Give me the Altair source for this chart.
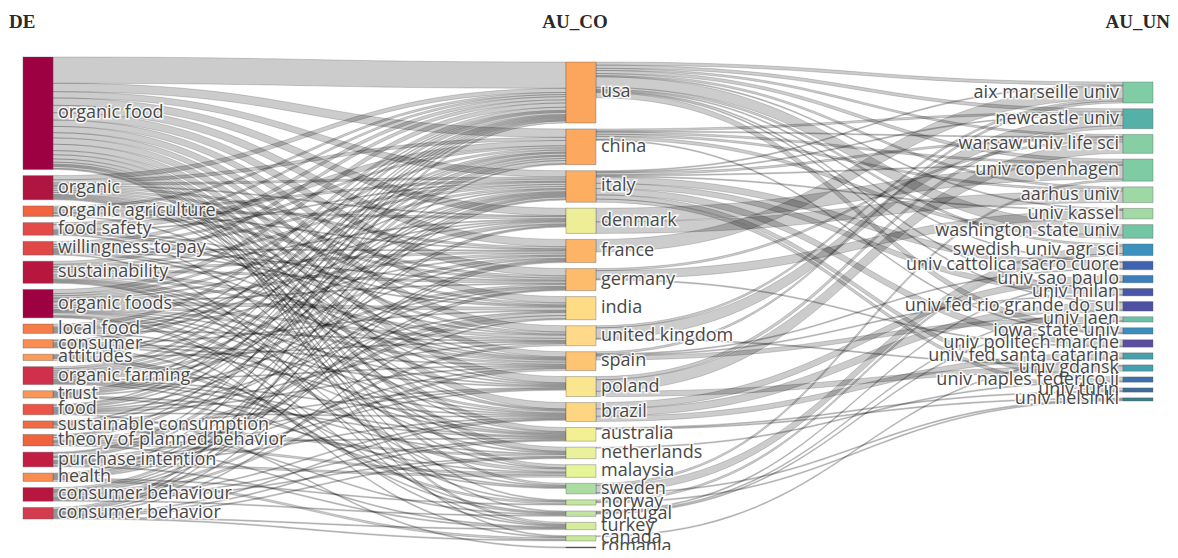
import altair as alt
import pandas as pd
import numpy as np

# ---------------- data ----------------
DE = ["organic food", "organic", "organic agriculture", "food safety", "willingness to pay",
      "sustainability", "organic foods", "local food", "consumer", "attitudes",
      "organic farming", "trust", "food", "sustainable consumption",
      "theory of planned behavior", "purchase intention", "health",
      "consumer behaviour", "consumer behavior"]
DE_COLORS = ["#9e0142", "#ae1540", "#f0643f", "#e34a4a", "#e04848",
             "#b7163f", "#9e0142", "#f57d4a", "#f98e52", "#fa9b58",
             "#d0304c", "#fa9656", "#ea5346", "#f26a43",
             "#f0633f", "#c21e44", "#f88c51",
             "#b7163f", "#d33c4e"]

AU_CO = ["usa", "china", "italy", "denmark", "france", "germany", "india",
         "united kingdom", "spain", "poland", "brazil", "australia", "netherlands",
         "malaysia", "sweden", "norway", "portugal", "turkey", "canada", "romania"]
AU_CO_COLORS = ["#fca55d", "#fca95f", "#fdae61", "#eeee98", "#fdb466", "#fdbb6c", "#fedc85",
                "#fed98a", "#fdc473", "#f9e68e", "#fed580", "#f3ef93", "#e9f29a",
                "#e6f598", "#acdca2", "#c2e59f", "#bfe5a0", "#d4ec9c", "#c9e89e", "#555555"]

AU_UN = ["aix marseille univ", "newcastle univ", "warsaw univ life sci", "univ copenhagen",
         "aarhus univ", "univ kassel", "washington state univ", "swedish univ agr sci",
         "univ cattolica sacro cuore", "univ sao paulo", "univ milan",
         "univ fed rio grande do sul", "univ jaen", "iowa state univ", "univ politech marche",
         "univ fed santa catarina", "univ gdansk", "univ naples federico ii", "univ turin",
         "univ helsinki"]
AU_UN_COLORS = ["#80cca5", "#55b0a8", "#86cfa5", "#7ecba4", "#9ed8a4", "#a2d9a4", "#73c6a4",
                "#3e90bd", "#3f63b0", "#3a7fb9", "#4857a8", "#4f4fa3", "#6ac3a5", "#3c8ebe",
                "#5b4ea1", "#48a0ab", "#46a0b0", "#3d70ae", "#3e6d9c", "#3d7d8a"]

DE_TO_CO = {
    "organic food": {"usa": 25, "china": 8, "italy": 6, "denmark": 7, "france": 7, "germany": 7,
                     "india": 6, "united kingdom": 6, "spain": 5, "poland": 6, "brazil": 6,
                     "australia": 4, "netherlands": 4, "malaysia": 3, "sweden": 2, "norway": 1,
                     "portugal": 1, "turkey": 2, "canada": 1},
    "organic": {"usa": 4, "china": 3, "italy": 2, "denmark": 1, "france": 2, "germany": 2, "india": 2,
                "united kingdom": 2, "spain": 1, "poland": 1, "brazil": 1, "australia": 1, "netherlands": 1},
    "organic agriculture": {"usa": 2, "italy": 2, "denmark": 2, "germany": 2, "france": 1, "brazil": 1},
    "food safety": {"china": 5, "usa": 2, "india": 1, "italy": 1, "malaysia": 1, "spain": 1, "united kingdom": 1},
    "willingness to pay": {"usa": 3, "china": 2, "italy": 2, "france": 1, "poland": 1, "spain": 1,
                           "india": 1, "turkey": 1, "germany": 1},
    "sustainability": {"usa": 3, "italy": 2, "denmark": 1, "france": 2, "germany": 2, "united kingdom": 3,
                       "spain": 2, "brazil": 2, "sweden": 1, "norway": 1, "netherlands": 1, "australia": 1},
    "organic foods": {"usa": 4, "china": 2, "india": 3, "italy": 2, "poland": 1, "france": 2,
                      "united kingdom": 2, "spain": 2, "brazil": 1, "malaysia": 3, "turkey": 1,
                      "portugal": 1, "germany": 1, "denmark": 1, "australia": 1},
    "local food": {"usa": 3, "united kingdom": 1, "canada": 1, "italy": 1, "france": 1, "australia": 1, "denmark": 1},
    "consumer": {"china": 2, "usa": 1, "india": 1, "poland": 1, "brazil": 1, "spain": 1, "portugal": 1},
    "attitudes": {"usa": 1, "china": 1, "sweden": 1, "norway": 2, "united kingdom": 1},
    "organic farming": {"usa": 2, "china": 2, "italy": 2, "denmark": 2, "france": 2, "germany": 2,
                        "brazil": 1, "spain": 1, "sweden": 1, "netherlands": 1, "australia": 1},
    "trust": {"usa": 1, "china": 1, "italy": 1, "germany": 1, "denmark": 1, "malaysia": 1, "australia": 1},
    "food": {"usa": 1, "china": 2, "italy": 1, "france": 1, "brazil": 1, "spain": 1, "india": 1,
             "united kingdom": 1, "romania": 1},
    "sustainable consumption": {"usa": 1, "italy": 1, "germany": 1, "poland": 1,
                                "portugal": 1, "netherlands": 2},
    "theory of planned behavior": {"china": 2, "india": 3, "malaysia": 2, "usa": 1, "poland": 1,
                                   "turkey": 1, "australia": 1},
    "purchase intention": {"china": 3, "india": 3, "malaysia": 2, "usa": 1, "italy": 1, "poland": 1,
                           "turkey": 1, "brazil": 1, "spain": 1},
    "health": {"usa": 1, "italy": 1, "france": 1, "germany": 1, "denmark": 1,
               "canada": 2, "norway": 1},
    "consumer behaviour": {"united kingdom": 2, "italy": 2, "spain": 2, "france": 1, "germany": 1,
                           "denmark": 1, "australia": 1, "netherlands": 1, "portugal": 1, "brazil": 1},
    "consumer behavior": {"usa": 2, "china": 1, "italy": 1, "india": 1, "france": 1, "canada": 1,
                          "brazil": 1, "australia": 1, "netherlands": 1, "turkey": 1},
}

UN_FROM_CO = {
    "aix marseille univ": {"france": 12, "usa": 3, "italy": 1, "spain": 2, "united kingdom": 2},
    "newcastle univ": {"united kingdom": 10, "usa": 3, "poland": 3, "italy": 1, "china": 2},
    "warsaw univ life sci": {"poland": 11, "usa": 2, "germany": 2, "italy": 2, "china": 1},
    "univ copenhagen": {"denmark": 13, "usa": 3, "china": 2, "sweden": 2, "italy": 1},
    "aarhus univ": {"denmark": 11, "usa": 2, "china": 2},
    "univ kassel": {"germany": 8, "usa": 1, "italy": 1},
    "washington state univ": {"usa": 10, "china": 3},
    "swedish univ agr sci": {"sweden": 7, "usa": 2, "norway": 2},
    "univ cattolica sacro cuore": {"italy": 6, "spain": 1, "usa": 1},
    "univ sao paulo": {"brazil": 6, "portugal": 1},
    "univ milan": {"italy": 5, "usa": 1, "spain": 1},
    "univ fed rio grande do sul": {"brazil": 7, "portugal": 1, "usa": 1},
    "univ jaen": {"spain": 4, "portugal": 1},
    "iowa state univ": {"usa": 5, "china": 1},
    "univ politech marche": {"italy": 6, "germany": 1},
    "univ fed santa catarina": {"brazil": 5, "canada": 1},
    "univ gdansk": {"poland": 5, "united kingdom": 1},
    "univ naples federico ii": {"italy": 4, "netherlands": 1},
    "univ turin": {"italy": 3, "australia": 1},
    "univ helsinki": {"sweden": 1, "norway": 1, "australia": 1},
}

TITLES = ["DE", "AU_CO", "AU_UN"]

# ---------------- layout (page pixel space) ----------------
COL_X = [23, 566, 1123]
NODE_W = 30
SPANS = [(57, 519), (62, 548), (82, 401)]

cols = [DE, AU_CO, AU_UN]
colors = [DE_COLORS, AU_CO_COLORS, AU_UN_COLORS]

links = []
for s, d in DE_TO_CO.items():
    for t, v in d.items():
        links.append((0, s, 1, t, v))
for t, d in UN_FROM_CO.items():
    for s, v in d.items():
        links.append((1, s, 2, t, v))

inn = {}
out = {}
for sc, s, tc, t, v in links:
    out[(sc, s)] = out.get((sc, s), 0) + v
    inn[(tc, t)] = inn.get((tc, t), 0) + v
size = {}
for c, names in enumerate(cols):
    for n in names:
        size[(c, n)] = max(inn.get((c, n), 0), out.get((c, n), 0))

mid_sum = sum(size[(1, n)] for n in AU_CO)
k = (SPANS[1][1] - SPANS[1][0] - 6.0 * (len(AU_CO) - 1)) / mid_sum

ypos = {}
node_rows = []
for c, names in enumerate(cols):
    tot = sum(size[(c, n)] for n in names) * k
    pad = (SPANS[c][1] - SPANS[c][0] - tot) / (len(names) - 1)
    y = SPANS[c][0]
    for i, n in enumerate(names):
        h = max(size[(c, n)] * k, 1.0)
        ypos[(c, n)] = (y, y + h)
        node_rows.append(dict(col=c, name=n, x0=COL_X[c], x1=COL_X[c] + NODE_W,
                              y0=y, y1=y + h, yc=y + h / 2, color=colors[c][i]))
        y += h + pad
nodes = pd.DataFrame(node_rows)

# stacking offsets (links ordered by the position of their other end)
src_off = {}
tgt_off = {}
order_src = sorted(range(len(links)), key=lambda i: (links[i][0], links[i][1], ypos[(links[i][2], links[i][3])][0]))
sy = {}
for i in order_src:
    sc, s, tc, t, v = links[i]
    base = sy.get((sc, s), ypos[(sc, s)][0])
    src_off[i] = base
    sy[(sc, s)] = base + v * k
ty = {}
order_tgt = sorted(range(len(links)), key=lambda i: (links[i][2], links[i][3], ypos[(links[i][0], links[i][1])][0]))
for i in order_tgt:
    sc, s, tc, t, v = links[i]
    base = ty.get((tc, t), ypos[(tc, t)][0])
    tgt_off[i] = base
    ty[(tc, t)] = base + v * k

tt = np.linspace(0, 1, 40)
rows = []
for i, (sc, s, tc, t, v) in enumerate(links):
    xa = COL_X[sc] + NODE_W
    xb = COL_X[tc]
    xm = (xa + xb) / 2
    xs = xa * (1 - tt) ** 3 + 3 * xm * (1 - tt) ** 2 * tt + 3 * xm * (1 - tt) * tt ** 2 + xb * tt ** 3
    sm = 3 * tt ** 2 - 2 * tt ** 3
    ya, yb = src_off[i], tgt_off[i]
    h = v * k
    for x, f in zip(xs, sm):
        top = ya + (yb - ya) * f
        rows.append(dict(id=i, x=x, y0=top, y1=top + h))
band = pd.DataFrame(rows)

xsc = alt.Scale(domain=[8, 1170], nice=False, zero=False)
ysc = alt.Scale(domain=[8, 550], reverse=True, nice=False, zero=False)

bands = alt.Chart(band).mark_area(
    fill="black", fillOpacity=0.2, stroke="black", strokeOpacity=0.33, strokeWidth=0.5
).encode(
    x=alt.X("x:Q", scale=xsc, axis=None),
    y=alt.Y("y0:Q", scale=ysc, axis=None),
    y2="y1:Q",
    detail="id:N",
)

rects = alt.Chart(nodes).mark_rect(stroke="#555", strokeWidth=0.6, strokeOpacity=0.6).encode(
    x=alt.X("x0:Q", scale=xsc, axis=None), x2="x1:Q",
    y=alt.Y("y0:Q", scale=ysc, axis=None), y2="y1:Q",
    color=alt.Color("color:N", scale=None),
)

lab = nodes.copy()
lab["lx"] = np.where(lab["col"] == 2, lab["x0"] - 4, lab["x1"] + 5)
left_lab = lab[lab["col"] < 2]
right_lab = lab[lab["col"] == 2]

def labels(df, align):
    base = alt.Chart(df).encode(
        x=alt.X("lx:Q", scale=xsc, axis=None),
        y=alt.Y("yc:Q", scale=ysc, axis=None),
        text="name:N",
    )
    halo = base.mark_text(align=align, baseline="middle", font="Open Sans", fontSize=18,
                          fill="white", stroke="white", strokeWidth=3, strokeOpacity=0.85)
    txt = base.mark_text(align=align, baseline="middle", font="Open Sans", fontSize=18, color="#484848")
    return halo + txt

tdf = pd.DataFrame(dict(t=TITLES, x=[9, 575, 1170], y=[22, 22, 22]))
title_layers = []
for al, row in zip(["left", "center", "right"], tdf.itertuples()):
    title_layers.append(
        alt.Chart(tdf[tdf["t"] == row.t]).mark_text(
            align=al, baseline="middle", font="Liberation Serif", fontSize=19,
            fontWeight="bold", color="#2a2a2a"
        ).encode(
            x=alt.X("x:Q", scale=xsc, axis=None),
            y=alt.Y("y:Q", scale=ysc, axis=None),
            text="t:N",
        )
    )

chart = alt.layer(bands, rects, labels(left_lab, "left"), labels(right_lab, "right"), *title_layers).properties(
    width=1162, height=542, padding=0, autosize=alt.AutoSizeParams(type="none")
).configure_view(stroke=None)

chart.save("out.html", embed_options={"renderer": "svg", "actions": False})
